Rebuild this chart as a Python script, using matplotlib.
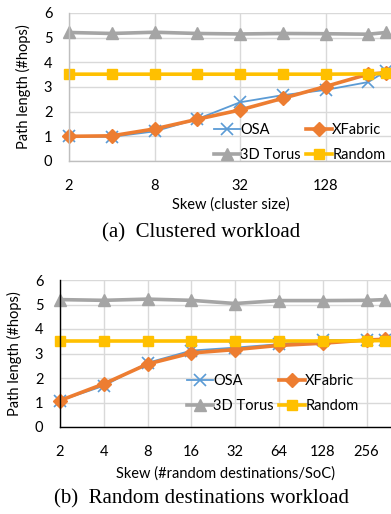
import matplotlib
matplotlib.use("Agg")
import matplotlib.pyplot as plt
from matplotlib.ticker import FixedLocator, NullLocator

# ---- data ----
skew = [2, 4, 8, 16, 32, 64, 128, 256, 343]

a_osa = [1.0, 0.98, 1.2, 1.7, 2.38, 2.67, 2.88, 3.2, 3.65]
a_xfabric = [1.0, 1.02, 1.3, 1.69, 2.07, 2.54, 3.02, 3.52, 3.58]
a_torus = [5.21, 5.17, 5.22, 5.17, 5.15, 5.17, 5.16, 5.14, 5.21]
a_random = [3.52, 3.52, 3.52, 3.52, 3.52, 3.52, 3.52, 3.53, 3.55]

b_osa = [1.08, 1.68, 2.62, 3.12, 3.24, 3.38, 3.55, 3.55, 3.55]
b_xfabric = [1.08, 1.76, 2.57, 3.02, 3.16, 3.33, 3.42, 3.55, 3.58]
b_torus = [5.2, 5.17, 5.22, 5.17, 5.04, 5.16, 5.16, 5.17, 5.2]
b_random = [3.51, 3.51, 3.51, 3.51, 3.51, 3.51, 3.51, 3.52, 3.53]

a_xticks = [2, 8, 32, 128]
b_xticks = [2, 4, 8, 16, 32, 64, 128, 256]
yticks = [0, 1, 2, 3, 4, 5, 6]

names = ["OSA", "XFabric", "3D Torus", "Random"]
colors = ["#5B9BD5", "#ED7D31", "#A5A5A5", "#FFC000"]
markers = ["x", "D", "^", "s"]
lws = [1.3, 2.6, 2.6, 2.6]
msizes = [9, 7.5, 8.5, 7.5]

W, H = 391, 514
DPI = 100
fig = plt.figure(figsize=(W / DPI, H / DPI), dpi=DPI)

FONT = ["Lato", "DejaVu Sans"]
SERIF = ["Liberation Serif", "DejaVu Serif"]
grid_c = "#D9D9D9"


def make_ax(left, top, bottom, right_px, spine_col, xmax):
    ax = fig.add_axes([left / W, 1 - bottom / H, (right_px - left) / W, (bottom - top) / H])
    ax.set_xscale("log", base=2)
    ax.set_xlim(2, xmax)
    ax.set_ylim(0, 6)
    ax.set_yticks(yticks)
    for s in ["top", "right"]:
        ax.spines[s].set_visible(False)
    for s in ["left", "bottom"]:
        ax.spines[s].set_color(spine_col)
        ax.spines[s].set_linewidth(1.0)
    ax.grid(True, color=grid_c, linewidth=1.0)
    ax.set_axisbelow(True)
    ax.tick_params(length=0, labelsize=10.5)
    ax.tick_params(axis="y", pad=12)
    for lab in ax.get_yticklabels():
        lab.set_family(FONT)
    ax.set_ylabel("Path length (#hops)", fontsize=10.5, family=FONT, labelpad=9)
    return ax


def draw(ax, series):
    handles = []
    for vals, name, c, m, lw, ms in zip(series, names, colors, markers, lws, msizes):
        kw = dict(color=c, marker=m, lw=lw, ms=ms, label=name, clip_on=False)
        if m == "x":
            kw.update(mew=1.2)
        else:
            kw.update(mec=c)
        h, = ax.plot(skew, vals, **kw)
        handles.append(h)
    # row-wise legend order: OSA, XFabric / 3D Torus, Random
    return [handles[0], handles[2], handles[1], handles[3]]


def add_legend(ax, handles, x, y):
    ax.legend(handles, [h.get_label() for h in handles], ncol=2, loc="upper left",
              bbox_to_anchor=(x / W, 1 - y / H), bbox_transform=fig.transFigure,
              frameon=False, handlelength=1.8, handletextpad=0.0,
              columnspacing=0.35, labelspacing=0.75,
              prop={"family": FONT, "size": 10.5})


# ---- top chart ----
ax1 = make_ax(69, 13, 161, W + 1, "#BFBFBF", 2 * 2 ** ((W + 1 - 69) / 42.75))
ax1.xaxis.set_major_locator(FixedLocator(a_xticks + [512]))
ax1.xaxis.set_minor_locator(NullLocator())
ax1.set_xticklabels([str(v) for v in a_xticks] + ["512"], family=FONT)
ax1.tick_params(axis="x", pad=13)
h1 = draw(ax1, [a_osa, a_xfabric, a_torus, a_random])
ax1.set_xlabel("Skew (cluster size)", fontsize=10.5, family=FONT, labelpad=3)
add_legend(ax1, h1, 201, 110)

# ---- bottom chart ----
ax2 = make_ax(60, 280, 427, W + 1, "#000000", 2 * 2 ** ((W + 1 - 60) / 43.8))
ax2.xaxis.set_major_locator(FixedLocator(b_xticks))
ax2.xaxis.set_minor_locator(NullLocator())
ax2.set_xticklabels([str(v) for v in b_xticks], family=FONT)
ax2.tick_params(axis="x", pad=13)
h2 = draw(ax2, [b_osa, b_xfabric, b_torus, b_random])
ax2.set_xlabel("Skew (#random destinations/SoC)", fontsize=10.5, family=FONT, labelpad=5)
add_legend(ax2, h2, 174, 361)

# ---- captions ----
fig.text(201 / W, 1 - 233 / H, "(a)  Clustered workload", ha="center", va="center",
         fontsize=15, family=SERIF)
fig.text(202 / W, 1 - 499 / H, "(b)  Random destinations workload", ha="center", va="center",
         fontsize=15, family=SERIF)

fig.savefig("out.png", dpi=DPI)
